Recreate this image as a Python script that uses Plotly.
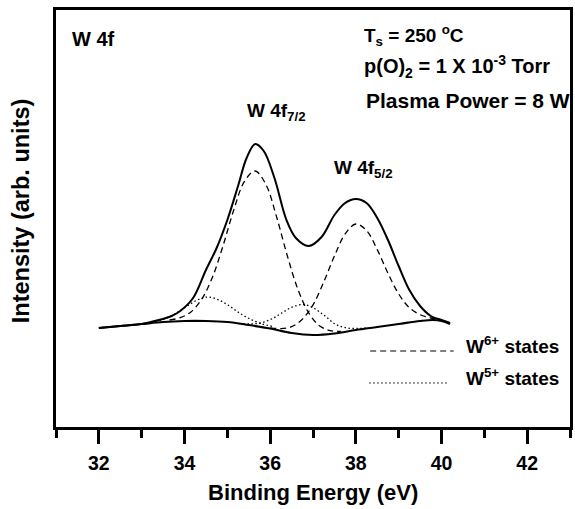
import plotly.graph_objects as go

# Binding energy (eV) and intensity (arb. units)
env_x = [32.0, 32.5, 33.0, 33.4, 33.7, 33.9, 34.2, 34.5, 34.75, 35.0, 35.25, 35.45, 35.65, 35.85,
         36.1, 36.38, 36.6, 36.9, 37.2, 37.5, 37.75, 38.0, 38.25, 38.5, 38.75, 39.0, 39.25, 39.5,
         39.75, 40.0, 40.2]
env_y = [99, 101, 103, 107, 111, 116, 129, 157, 179, 207, 241, 269, 283, 276,
         249, 207, 189, 181, 190, 212, 224, 228, 224, 209, 187, 161, 137, 121,
         111, 107, 104]

bg_x = [32.0, 32.5, 33.0, 33.5, 34.0, 34.5, 35.0, 35.5, 36.0, 36.5, 37.0, 37.5, 38.0, 38.5,
        39.0, 39.5, 39.8, 40.0, 40.2]
bg_y = [99, 101, 103, 105, 106, 106, 105, 102, 98.5, 94, 92, 93.5, 97, 100,
        103, 106, 107, 106, 103]

w6_72_x = [33.65, 33.9, 34.15, 34.4, 34.65, 34.9, 35.15, 35.4, 35.65, 35.9, 36.15, 36.4, 36.65,
           36.9, 37.15, 37.4, 37.65]
w6_72_y = [107, 109.3, 115.1, 127.7, 149.5, 181.3, 217, 245.7, 256, 242.5, 210.1, 171.3, 137.4,
           114.1, 101.3, 96.4, 95.5]

w6_52_x = [36.0, 36.25, 36.5, 36.75, 37.0, 37.25, 37.5, 37.75, 38.0, 38.25, 38.5, 38.75, 39.0,
           39.25, 39.5, 39.75, 40.0]
w6_52_y = [99.2, 98.4, 100.3, 107.8, 122.1, 145, 170.9, 193.1, 203, 196.4, 177.4, 153.7, 133.1,
           119.3, 112.3, 109, 106.7]

w5_a_x = [33.05, 33.3, 33.55, 33.8, 34.05, 34.3, 34.55, 34.8, 35.05, 35.3, 35.55, 35.8, 36.05]
w5_a_y = [103, 105, 108.2, 113.8, 120.6, 127, 130, 127, 121, 113.5, 107.6, 103.3, 100.6]

w5_b_x = [35.28, 35.53, 35.78, 36.03, 36.28, 36.53, 36.78, 37.03, 37.28, 37.53, 37.78, 38.03, 38.28]
w5_b_y = [103.6, 103.1, 104, 108, 114.2, 120.2, 122.4, 118.5, 111, 102.7, 99.1, 98.5, 99]

x_ticks = [32, 34, 36, 38, 40, 42]

FONT = "Liberation Sans, Arial, sans-serif"
DASH = "6px,4px"
DOT = "1.5px,2.5px"

fig = go.Figure()

def add_line(x, y, width, dash=None):
    fig.add_trace(go.Scatter(x=x, y=y, mode="lines", showlegend=False,
                             line=dict(color="black", width=width, dash=dash,
                                       shape="spline", smoothing=1.0),
                             hoverinfo="skip"))

add_line(w6_72_x, w6_72_y, 1.3, DASH)
add_line(w6_52_x, w6_52_y, 1.3, DASH)
add_line(w5_a_x, w5_a_y, 1.3, DOT)
add_line(w5_b_x, w5_b_y, 1.3, DOT)
add_line(bg_x, bg_y, 2.2)
add_line(env_x, env_y, 2.0)

def px_to_paper(px, py):
    return (px - 56) / 517, (427 - py) / 417

annots = []
def add_text(px, py, text, size, xanchor="left", angle=0):
    xx, yy = px_to_paper(px, py)
    annots.append(dict(x=xx, y=yy, xref="paper", yref="paper", text=text, showarrow=False,
                       xanchor=xanchor, yanchor="middle", textangle=angle,
                       font=dict(family=FONT, size=size, color="black", weight="bold")))

add_text(70, 39, "W 4f", 20)
add_text(364, 36, "T<sub>s</sub> = 250 <sup>o</sup>C", 19)
add_text(364, 66, "p(O)<sub>2</sub> = 1 X 10<sup>-3</sup> Torr", 20)
add_text(366, 101, "Plasma Power = 8 W", 21)
add_text(246, 112, "W 4f<sub>7/2</sub>", 19)
add_text(334, 169, "W 4f<sub>5/2</sub>", 19)
add_text(466, 345, "W<sup>6+</sup> states", 19)
add_text(466, 377, "W<sup>5+</sup> states", 19)
add_text(315, 493, "Binding Energy (eV)", 22, xanchor="center")
add_text(21, 211, "Intensity (arb. units)", 23.5, xanchor="center", angle=-90)

shapes = []
for (x0, x1, py, dash) in [(372, 456, 351, DASH), (371, 451, 383, DOT)]:
    a0, b = px_to_paper(x0, py)
    a1, _ = px_to_paper(x1, py)
    shapes.append(dict(type="line", xref="paper", yref="paper", x0=a0, x1=a1, y0=b, y1=b,
                       line=dict(color="black", width=1.2, dash=dash)))

fig.update_layout(
    width=575, height=509,
    margin=dict(l=56, r=2, t=10, b=82),
    paper_bgcolor="white", plot_bgcolor="white",
    annotations=annots, shapes=shapes,
    xaxis=dict(range=[31, 43], tickvals=x_ticks, ticktext=[str(v) for v in x_ticks],
               ticks="outside", ticklen=14, tickwidth=3, tickcolor="black",
               ticklabelstandoff=3,
               showline=True, linewidth=3, linecolor="black", mirror=True,
               showgrid=False, zeroline=False,
               tickfont=dict(family=FONT, size=19.5, color="black", weight="bold"),
               minor=dict(tickvals=[31, 33, 35, 37, 39, 41, 43], ticks="outside", ticklen=8,
                          tickwidth=3, tickcolor="black", showgrid=False)),
    yaxis=dict(range=[0, 417], showticklabels=False, ticks="",
               showline=True, linewidth=3, linecolor="black", mirror=True,
               showgrid=False, zeroline=False),
)

fig.write_html("out.html")
